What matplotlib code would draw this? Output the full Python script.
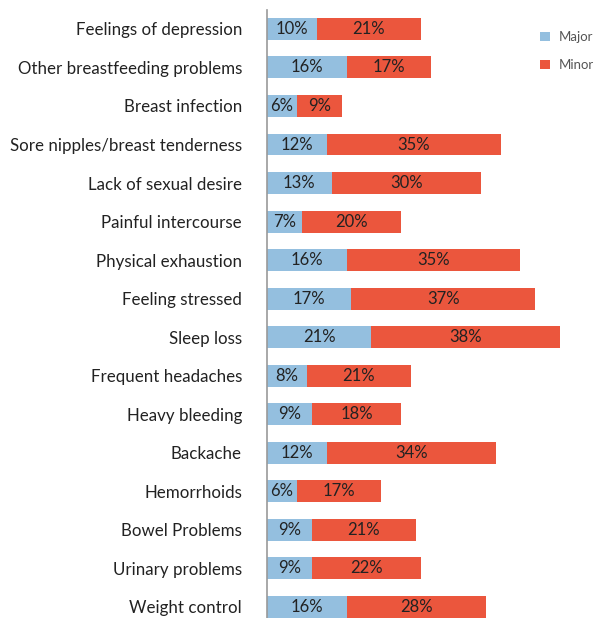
import numpy as np
import matplotlib
matplotlib.use("Agg")
import matplotlib.pyplot as plt

# Data, top to bottom
categories = [
    "Feelings of depression",
    "Other breastfeeding problems",
    "Breast infection",
    "Sore nipples/breast tenderness",
    "Lack of sexual desire",
    "Painful intercourse",
    "Physical exhaustion",
    "Feeling stressed",
    "Sleep loss",
    "Frequent headaches",
    "Heavy bleeding",
    "Backache",
    "Hemorrhoids",
    "Bowel Problems",
    "Urinary problems",
    "Weight control",
]
major = [10, 16, 6, 12, 13, 7, 16, 17, 21, 8, 9, 12, 6, 9, 9, 16]
minor = [21, 17, 9, 35, 30, 20, 35, 37, 38, 21, 18, 34, 17, 21, 22, 28]

BLUE = "#94bfdf"
RED = "#eb563d"
TEXT = "#222222"

plt.rcParams['font.family'] = ['Lato', 'DejaVu Sans']

fig = plt.figure(figsize=(5.94, 6.18), dpi=100)
ax = fig.add_axes([267 / 594, 0, 1 - 267 / 594, 608 / 618])

y = np.arange(len(categories))
h = 0.57
ax.barh(y, major, height=h, color=BLUE, label="Major")
ax.barh(y, minor, left=major, height=h, color=RED, label="Minor")

for i in range(len(categories)):
    ax.text(major[i] / 2, y[i], f"{major[i]}%", ha="center", va="center",
            fontsize=12, color=TEXT)
    ax.text(major[i] + minor[i] / 2, y[i], f"{minor[i]}%", ha="center",
            va="center", fontsize=12, color=TEXT)

ax.set_xlim(0, (594 - 267) / 4.97)
ax.set_ylim(15 + 11 / 38.5, -0.49)
ax.set_yticks(y)
ax.set_yticklabels(categories, fontsize=12.2, color=TEXT)
ax.tick_params(axis="y", length=0, pad=18)
ax.set_xticks([])
for s in ["top", "right", "bottom"]:
    ax.spines[s].set_visible(False)
ax.spines["left"].set_color("#999999")
ax.spines["left"].set_linewidth(1.2)

leg = ax.legend(loc="upper left", bbox_to_anchor=(0.8, 0.985), frameon=False,
                handlelength=0.7, handleheight=0.7, handletextpad=0.7,
                labelspacing=1.25, fontsize=9.5)
for t in leg.get_texts():
    t.set_color("#555555")

fig.savefig("out.png", dpi=100)
